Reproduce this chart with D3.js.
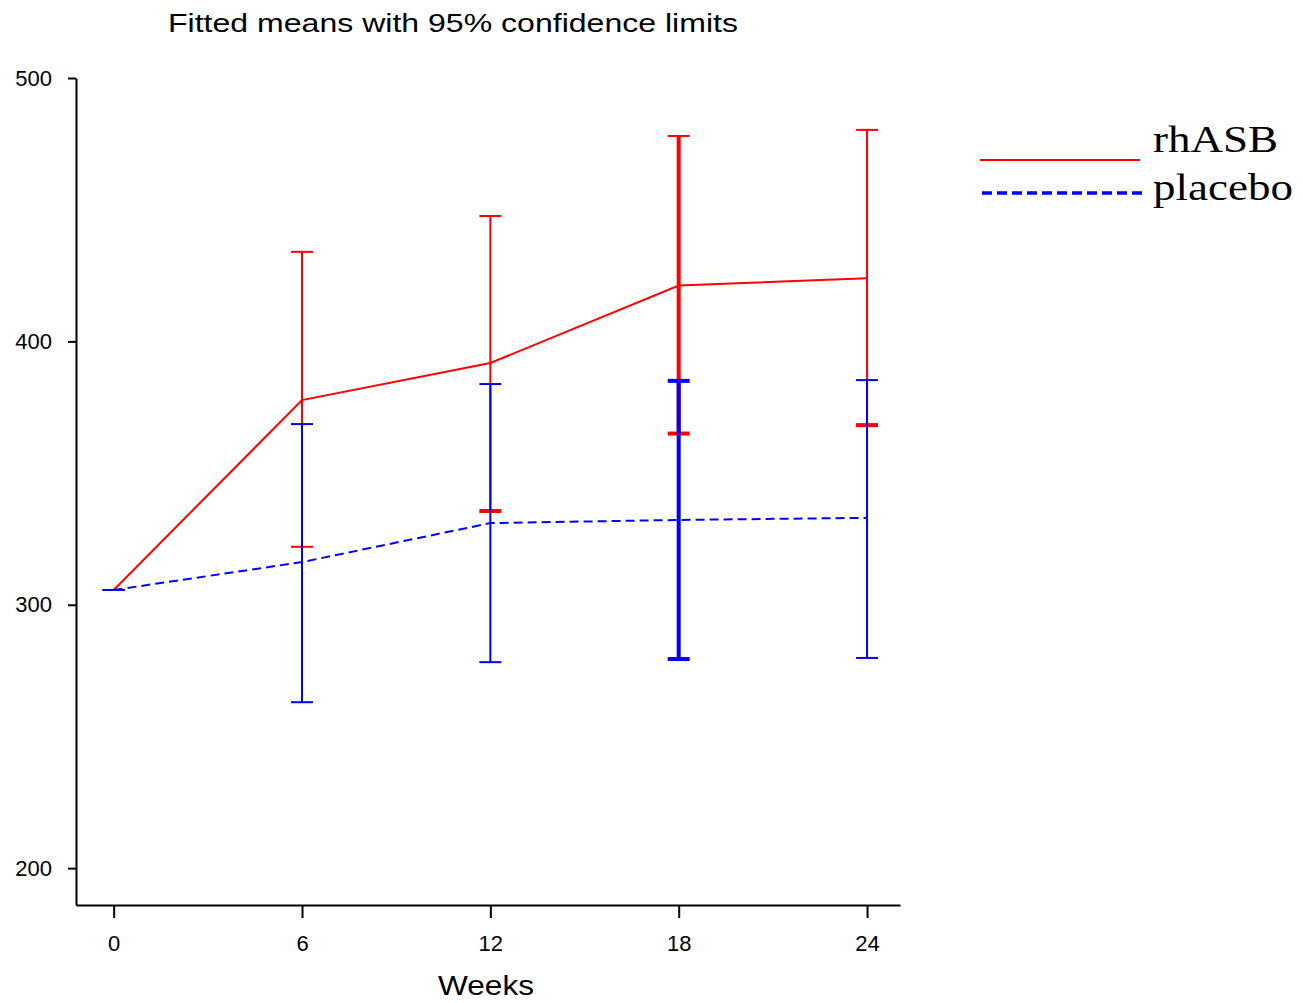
<!DOCTYPE html>
<html>
<head>
<meta charset="utf-8">
<script src="https://cdn.jsdelivr.net/npm/d3@7"></script>
<style>
  body { margin: 0; background: #fff; }
  svg { display: block; }
  .axis path, .axis line { stroke: #000; stroke-width: 2; }
  .axis text { font-family: "Liberation Sans", Arial, sans-serif; fill: #000; }
</style>
</head>
<body>
<script>
// values
const weeks = [0, 6, 12, 18, 24];
const rhasbMean  = [305.6, 377.7, 391.8, 421.2, 424.0];
const rhasbLower = [305.6, 322.0, 335.6, 365.0, 368.2];
const rhasbUpper = [305.6, 434.0, 447.6, 478.0, 480.3];
const placeboMean  = [305.6, 316.2, 331.0, 332.2, 333.0];
const placeboLower = [305.6, 263.0, 278.2, 279.4, 279.8];
const placeboUpper = [305.6, 368.6, 383.8, 385.0, 385.3];
const yTicks = [200, 300, 400, 500];
const xTicks = [0, 6, 12, 18, 24];

const w = 1303, h = 1003;
const capHalf = 11;

const svg = d3.select("body").append("svg")
  .attr("width", w)
  .attr("height", h);

const x = d3.scaleLinear().domain([-1.2, 25.05]).range([76, 900]);
const y = d3.scaleLinear().domain([186, 500]).range([905, 78]);

// title
svg.append("text")
  .attr("x", 168)
  .attr("y", 32)
  .attr("textLength", 570)
  .attr("lengthAdjust", "spacingAndGlyphs")
  .style("font-family", "Liberation Sans, Arial, sans-serif")
  .style("font-size", "26px")
  .text("Fitted means with 95% confidence limits");

// axes
const yAxis = d3.axisLeft(y).tickValues(yTicks).tickSize(8).tickSizeOuter(0).tickPadding(16);
const xAxis = d3.axisBottom(x).tickValues(xTicks).tickSize(13).tickSizeOuter(0).tickPadding(17);

svg.append("g")
  .attr("class", "axis")
  .attr("transform", "translate(" + 76 + ",0)")
  .call(yAxis)
  .selectAll("text").style("font-size", "22px");

svg.append("g")
  .attr("class", "axis")
  .attr("transform", "translate(0," + 905 + ")")
  .call(xAxis)
  .selectAll("text").style("font-size", "22px");

svg.append("text")
  .attr("x", 438)
  .attr("y", 995)
  .attr("textLength", 96)
  .attr("lengthAdjust", "spacingAndGlyphs")
  .style("font-family", "Liberation Sans, Arial, sans-serif")
  .style("font-size", "27px")
  .text("Weeks");

// build series
function series(mean, lo, hi) {
  return weeks.map((wk, i) => ({ wk: wk, m: mean[i], lo: lo[i], hi: hi[i] }));
}
const red = series(rhasbMean, rhasbLower, rhasbUpper);
const blue = series(placeboMean, placeboLower, placeboUpper);

const line = d3.line().x(d => x(d.wk)).y(d => y(d.m));

// the week 18 bars came out heavier in the original
const heavy = d => d.wk === 18;

function errorBars(data, colour, heavyLowCap) {
  const g = svg.append("g").attr("stroke", colour).attr("fill", "none");
  g.selectAll("line.v")
    .data(data.filter(d => d.hi > d.lo))
    .enter().append("line")
    .attr("class", "v")
    .attr("x1", d => x(d.wk)).attr("x2", d => x(d.wk))
    .attr("y1", d => y(d.lo)).attr("y2", d => y(d.hi))
    .attr("stroke-width", d => heavy(d) ? 4 : 2);
  g.selectAll("line.hi")
    .data(data)
    .enter().append("line")
    .attr("class", "hi")
    .attr("x1", d => x(d.wk) - capHalf).attr("x2", d => x(d.wk) + capHalf)
    .attr("y1", d => y(d.hi)).attr("y2", d => y(d.hi))
    .attr("stroke-width", d => heavy(d) && colour === "blue" ? 4 : 2);
  g.selectAll("line.lo")
    .data(data)
    .enter().append("line")
    .attr("class", "lo")
    .attr("x1", d => x(d.wk) - capHalf).attr("x2", d => x(d.wk) + capHalf)
    .attr("y1", d => y(d.lo)).attr("y2", d => y(d.lo))
    .attr("stroke-width", d => heavyLowCap(d) ? 4 : 2);
}

// means lines
svg.append("path")
  .datum(red)
  .attr("d", line)
  .attr("fill", "none")
  .attr("stroke", "#ff0000")
  .attr("stroke-width", 2);

svg.append("path")
  .datum(blue)
  .attr("d", line)
  .attr("fill", "none")
  .attr("stroke", "#0000ff")
  .attr("stroke-width", 2)
  .attr("stroke-dasharray", "9,5");

errorBars(red, "red", d => d.wk >= 12);
errorBars(blue, "blue", d => heavy(d));

// legend
const legend = svg.append("g");
legend.append("line")
  .attr("x1", 980).attr("x2", 1140)
  .attr("y1", 160).attr("y2", 160)
  .attr("stroke", "#ff0000").attr("stroke-width", 2);
legend.append("line")
  .attr("x1", 982).attr("x2", 1143)
  .attr("y1", 193).attr("y2", 193)
  .attr("stroke", "#0000ff").attr("stroke-width", 3.5)
  .attr("stroke-dasharray", "10,5");
legend.append("text")
  .attr("x", 1153).attr("y", 152)
  .attr("textLength", 125).attr("lengthAdjust", "spacingAndGlyphs")
  .style("font-family", "Liberation Serif, Times New Roman, serif")
  .style("font-size", "38px")
  .text("rhASB");
legend.append("text")
  .attr("x", 1153).attr("y", 200)
  .attr("textLength", 140).attr("lengthAdjust", "spacingAndGlyphs")
  .style("font-family", "Liberation Serif, Times New Roman, serif")
  .style("font-size", "38px")
  .text("placebo");
</script>
</body>
</html>
